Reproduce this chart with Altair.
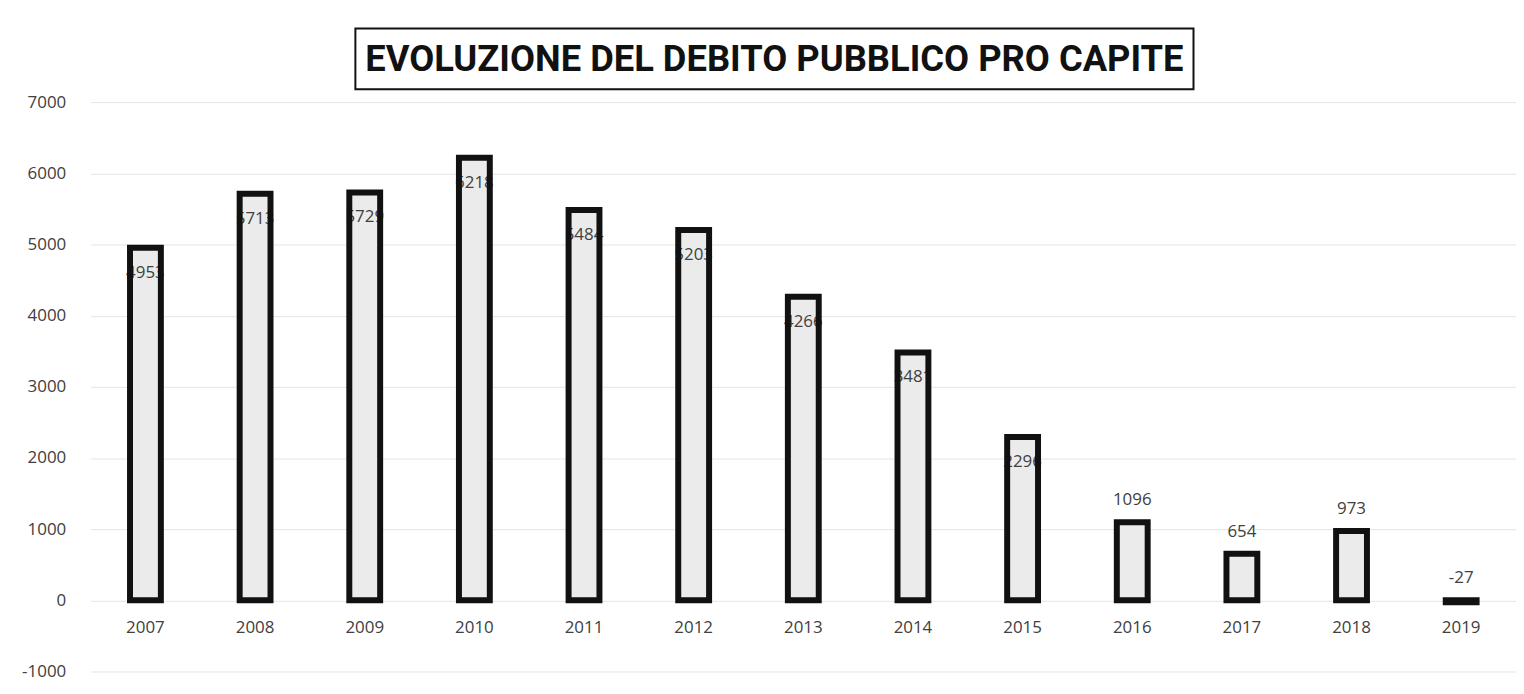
import altair as alt
import pandas as pd

years = ["2007", "2008", "2009", "2010", "2011", "2012", "2013",
         "2014", "2015", "2016", "2017", "2018", "2019"]
values = [4953, 5713, 5729, 6218, 5484, 5203, 4266, 3481, 2296, 1096, 654, 973, -27]
title_text = "EVOLUZIONE DEL DEBITO PUBBLICO PRO CAPITE"
y_ticks = [-1000, 0, 1000, 2000, 3000, 4000, 5000, 6000, 7000]

df = pd.DataFrame({"anno": years, "valore": values})

FONT = "Open Sans"
TXT = "#404040"

x_enc = alt.X("anno:N", sort=years,
              scale=alt.Scale(paddingInner=0, paddingOuter=0),
              axis=alt.Axis(title=None, labelAngle=0, domain=False, ticks=False,
                            labelFont=FONT, labelFontSize=17, labelColor=TXT,
                            labelPadding=20, offset=-72, grid=False))
y_scale = alt.Scale(domain=[-1000, 7000], nice=False)
y_enc = alt.Y("valore:Q", scale=y_scale,
              axis=alt.Axis(title=None, values=y_ticks, domain=False, ticks=False,
                            labelExpr="toString(datum.value)",
                            labelFont=FONT, labelFontSize=17, labelColor=TXT,
                            labelPadding=25, grid=True, gridColor="#e4e4e4",
                            gridWidth=1))

base = alt.Chart(df).transform_calculate(
    lbl="toString(datum.valore)", ly="max(datum.valore, 0)"
)

fill = base.mark_bar(size=31, fill="#ebebeb").encode(x=x_enc, y=y_enc, y2=alt.datum(0))

lab_in = base.transform_filter("datum.valore > 2000").mark_text(
    baseline="middle", align="center", dy=25, font=FONT, fontSize=17, color=TXT
).encode(x=alt.X("anno:N", sort=years), y=alt.Y("valore:Q", scale=y_scale),
         text="lbl:N")

lab_out = base.transform_filter("datum.valore <= 2000").mark_text(
    baseline="middle", align="center", dy=-22, font=FONT, fontSize=17, color=TXT
).encode(x=alt.X("anno:N", sort=years), y=alt.Y("ly:Q", scale=y_scale),
         text="lbl:N")

outline = base.mark_bar(size=31, fill="#ebebeb", fillOpacity=0, stroke="#111111",
                        strokeWidth=6).encode(
    x=alt.X("anno:N", sort=years), y=alt.Y("valore:Q", scale=y_scale), y2=alt.datum(0))

main = alt.layer(fill, lab_in, lab_out, outline).properties(width=1432, height=572)

title_df = pd.DataFrame({"t": [title_text]})
title_chart = alt.Chart(title_df).mark_text(
    font="Roboto", fontWeight="bold", fontSize=36.5, color="#111111",
    align="center", baseline="middle"
).encode(x=alt.value(421), y=alt.value(32), text="t:N").properties(
    width=842, height=61,
    view=alt.ViewBackground(stroke="#111111", strokeWidth=2)
)

spacer = alt.Chart(title_df).mark_rect(fillOpacity=0, strokeOpacity=0).encode(
    x=alt.value(0), x2=alt.value(265), y=alt.value(0), y2=alt.value(61)
).properties(width=265, height=61)

title_row = alt.hconcat(spacer, title_chart, spacing=0)

chart = alt.vconcat(title_row, main, spacing=3).properties(
    padding={"top": 18, "left": 13, "right": 0, "bottom": 5}
).configure_view(stroke=None)

chart.save("out.html", embed_options={"renderer": "svg", "actions": False})
